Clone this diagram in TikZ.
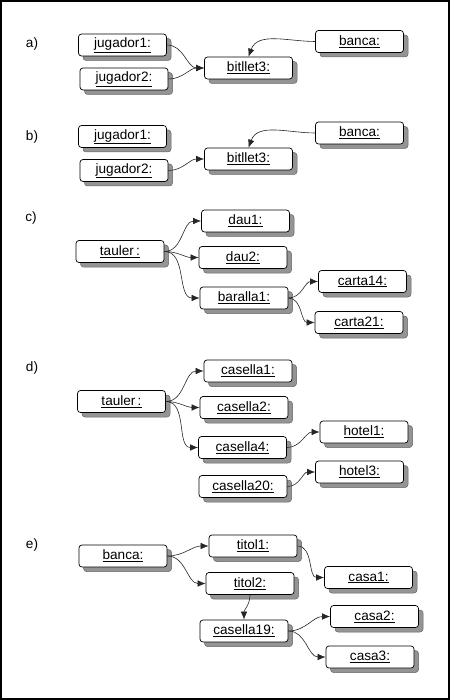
\documentclass[tikz,border=0pt]{standalone}
\usepackage{fontspec}
\setmainfont{Liberation Sans}
\usetikzlibrary{shadows,arrows.meta}
\begin{document}
\begin{tikzpicture}[x=1pt,y=-1pt,
  obj/.style={draw=black, line width=0.7pt, rounded corners=3pt, fill=white,
    minimum width=88pt, minimum height=22pt, inner sep=0pt,
    font=\fontsize{13.6}{15}\selectfont,
    drop shadow={shadow xshift=4.5pt, shadow yshift=-4.5pt, fill=black!42, draw=black!60, line width=0.5pt, opacity=1}},
  lbl/.style={font=\fontsize{13.6}{15}\selectfont, inner sep=0pt},
  link/.style={line width=0.6pt, draw=black!85, -{Latex[length=8pt,width=6.5pt]}}]
\useasboundingbox (0,0) rectangle (450,700);
\draw[line width=2pt] (1,1) rectangle (449,699);

% a)
\node[lbl] (la) at (32,44) {a)};
\node[obj] (aj1) at (122.5,45) {\underline{jugador1:}};
\node[obj] (aj2) at (124,79) {\underline{jugador2:}};
\node[obj] (ab3) at (248.5,68) {\underline{bitllet3:}};
\node[obj] (abn) at (359.5,41.5) {\underline{banca:}};
\draw[link] (aj1.east) to[out=0,in=180] (ab3.west);
\draw[link] (aj2.east) to[out=0,in=180] (ab3.west);
\draw[link] (abn.west) to[out=180,in=70] (ab3.north);

% b)
\node[lbl] (lb) at (32,137) {b)};
\node[obj] (bj1) at (122.5,136.5) {\underline{jugador1:}};
\node[obj] (bj2) at (124,170.5) {\underline{jugador2:}};
\node[obj] (bb3) at (248.5,159) {\underline{bitllet3:}};
\node[obj] (bbn) at (359.5,133) {\underline{banca:}};
\draw[link] (bj2.east) to[out=0,in=180] (bb3.west);
\draw[link] (bbn.west) to[out=180,in=70] (bb3.north);

% c)
\node[lbl] (lc) at (31,218) {c)};
\node[obj] (ct) at (120,251.5) {\underline{tauler\,:}};
\node[obj] (cd1) at (245.5,221) {\underline{dau1:}};
\node[obj] (cd2) at (243,257.5) {\underline{dau2:}};
\node[obj] (cb1) at (244,298) {\underline{baralla1:}};
\node[obj] (cc14) at (362.5,281.5) {\underline{carta14:}};
\node[obj] (cc21) at (359,322.5) {\underline{carta21:}};
\draw[link] (ct.east) to[out=0,in=180] (cd1.west);
\draw[link] (ct.east) to[out=0,in=180] (cd2.west);
\draw[link] (ct.east) to[out=0,in=180] (cb1.west);
\draw[link] (cb1.east) to[out=0,in=180] (cc14.west);
\draw[link] (cb1.east) to[out=0,in=180] (cc21.west);

% d)
\node[lbl] (ld) at (32,368) {d)};
\node[obj] (dt) at (121.5,401.5) {\underline{tauler\,:}};
\node[obj] (dc1) at (248,371) {\underline{casella1:}};
\node[obj] (dc2) at (244,407.5) {\underline{casella2:}};
\node[obj] (dc4) at (242.5,447.5) {\underline{casella4:}};
\node[obj] (dh1) at (364,432) {\underline{hotel1:}};
\node[obj] (dc20) at (243,486.5) {\underline{casella20:}};
\node[obj] (dh3) at (359.5,472) {\underline{hotel3:}};
\draw[link] (dt.east) to[out=0,in=180] (dc1.west);
\draw[link] (dt.east) to[out=0,in=180] (dc2.west);
\draw[link] (dt.east) to[out=0,in=180] (dc4.west);
\draw[link] (dc4.east) to[out=0,in=180] (dh1.west);
\draw[link] (dc20.east) to[out=0,in=180] (dh3.west);

% e)
\node[lbl] (le) at (32,545) {e)};
\node[obj] (ebn) at (123,556) {\underline{banca:}};
\node[obj] (et1) at (253,546) {\underline{titol1:}};
\node[obj] (et2) at (250,583.5) {\underline{titol2:}};
\node[obj] (eca1) at (368.5,577.5) {\underline{casa1:}};
\node[obj] (ec19) at (244,631) {\underline{casella19:}};
\node[obj] (eca2) at (374.5,616.5) {\underline{casa2:}};
\node[obj] (eca3) at (370,657) {\underline{casa3:}};
\draw[link] (ebn.east) to[out=0,in=180] (et1.west);
\draw[link] (ebn.east) to[out=0,in=180] (et2.west);
\draw[link] (et1.east) to[out=0,in=180] (eca1.west);
\draw[link] (et2.south) to[out=-90,in=90] (ec19.north);
\draw[link] (ec19.east) to[out=0,in=180] (eca2.west);
\draw[link] (ec19.east) to[out=0,in=180] (eca3.west);
\end{tikzpicture}
\end{document}
